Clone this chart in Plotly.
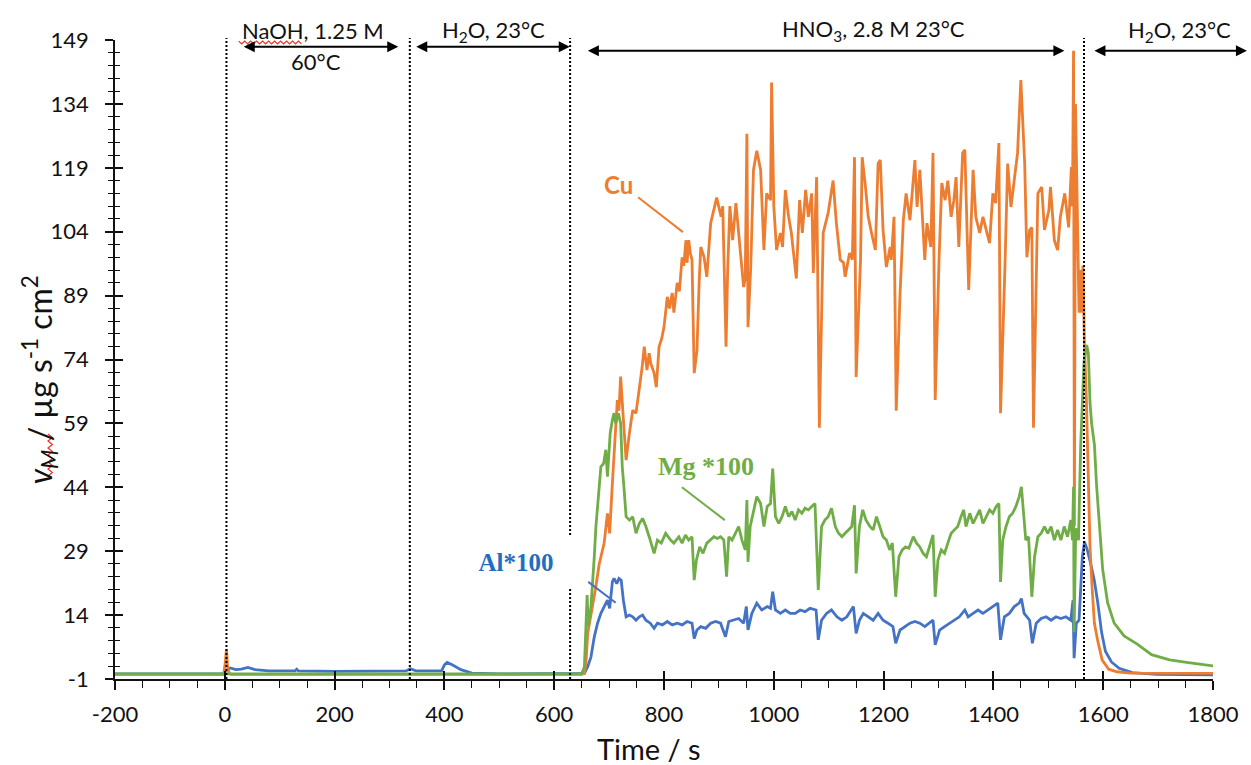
import plotly.graph_objects as go

# ---------------------------------------------------------------- data
# Dissolution rates (µg s-1 cm-2) versus time (s); Mg and Al are scaled x100.
cu_t = [-200, -2, 1, 3, 5, 8, 12, 650, 655, 658,
        661, 667, 675, 682, 691, 697, 701, 706, 712, 715,
        718, 721, 726, 731, 737, 743, 749, 755, 760, 764,
        767, 769, 773, 776, 782, 786, 791, 796, 800, 806,
        810, 815, 818, 824, 828, 831, 833, 836, 840, 842,
        845, 848, 851, 855, 860, 864, 867, 873, 878, 885,
        891, 896, 904, 907, 913, 916, 920, 925, 931, 936,
        940, 945, 948, 951, 953, 958, 963, 969, 976, 982,
        987, 994, 996, 1000, 1005, 1012, 1016, 1021, 1027, 1032,
        1041, 1047, 1052, 1058, 1063, 1069, 1072, 1078, 1083, 1090,
        1099, 1108, 1114, 1121, 1127, 1130, 1138, 1143, 1147, 1150,
        1158, 1161, 1167, 1172, 1178, 1185, 1190, 1194, 1199, 1205,
        1212, 1214, 1219, 1223, 1230, 1236, 1241, 1248, 1257, 1261,
        1266, 1272, 1275, 1279, 1286, 1290, 1294, 1301, 1306, 1312,
        1317, 1323, 1328, 1332, 1337, 1344, 1348, 1355, 1363, 1368,
        1375, 1381, 1386, 1393, 1399, 1404, 1410, 1413, 1421, 1426,
        1432, 1439, 1444, 1450, 1457, 1461, 1466, 1470, 1473, 1481,
        1488, 1493, 1501, 1504, 1511, 1517, 1522, 1530, 1537, 1542,
        1544, 1546, 1547.5, 1549.5, 1551, 1556, 1558, 1560, 1563, 1566,
        1569.5, 1572, 1576, 1580, 1584, 1590, 1598, 1610, 1625, 1650,
        1800]
cu_v = [0.1, 0.1, 3, 6, 2, 0.3, 0.1, 0.1, 0.3, 3,
        9.7, 14, 20, 26, 30.9, 37.9, 33.2, 45, 59.8, 64.5,
        62, 70, 60, 50.4, 56.7, 62.1, 61.4, 66.8, 72, 77,
        74, 71.5, 75.5, 73, 70.8, 67.5, 77, 79, 81.6, 88.7,
        86, 89.6, 85, 92, 90, 94.3, 98, 96, 102, 96.7,
        102, 99, 97.4, 70.8, 76, 92, 100.4, 98, 93.4, 106,
        109, 112, 107.5, 110, 77, 95, 110, 102, 110.7, 104,
        97.4, 91, 93, 127, 81.6, 95.7, 118.5, 123, 118.5, 99.7,
        113, 111.4, 139, 110, 99.7, 103.7, 100.4, 113.8, 107.5, 103.7,
        93, 111.4, 103.7, 113.8, 107.5, 113, 94.3, 116.8, 58, 103.7,
        108.4, 116, 106, 97.4, 96.7, 93.4, 99, 97.4, 121.5, 69.9,
        97.4, 121.5, 114.5, 107.5, 103.7, 99.7, 120, 120.8, 104.4, 95.7,
        100.4, 97.4, 107.5, 62, 89.6, 106.7, 113, 106.7, 120.8, 109.8,
        118.5, 102.8, 97.4, 106, 100.4, 122.5, 64.5, 97.4, 115.4, 111.4,
        116, 107.5, 111.4, 116.8, 100.4, 122.5, 123.2, 90.3, 118.5, 107.5,
        103.7, 107.5, 105, 101.3, 113, 110.7, 124.8, 61.4, 95.7, 120,
        109.8, 116.8, 122.5, 139.6, 120, 98, 104.4, 105, 58, 113,
        114.5, 104.4, 109, 114.5, 102, 99.7, 107.5, 113, 105, 119.2,
        110, 146.5, 35, 134, 120, 85, 95, 85, 96, 77,
        64, 49, 30, 20, 12, 8, 3.5, 1.3, 0.7, 0.4,
        0.3]

mg_t = [-200, 650, 655, 658, 660, 662, 667, 673, 676, 682,
        685, 690, 694, 697, 702, 706, 709, 712, 717, 721,
        724, 727, 731, 737, 743, 749, 755, 761, 767, 773,
        782, 788, 795, 803, 812, 818, 827, 833, 839, 845,
        851, 855, 859, 865, 871, 878, 885, 891, 897, 903,
        909, 914, 918, 924, 930, 936, 942, 948, 951, 953,
        957, 963, 969, 976, 982, 988, 994, 998, 1003, 1009,
        1015, 1021, 1027, 1033, 1039, 1045, 1051, 1057, 1063, 1069,
        1075, 1081, 1087, 1093, 1099, 1105, 1112, 1118, 1124, 1130,
        1136, 1142, 1147, 1150, 1156, 1162, 1168, 1175, 1181, 1187,
        1193, 1199, 1205, 1211, 1216, 1222, 1228, 1234, 1240, 1246,
        1254, 1260, 1266, 1272, 1278, 1284, 1290, 1294, 1299, 1305,
        1311, 1317, 1323, 1329, 1335, 1341, 1346, 1350, 1357, 1363,
        1369, 1375, 1381, 1387, 1393, 1399, 1405, 1410, 1413, 1417,
        1423, 1429, 1435, 1441, 1447, 1451, 1455, 1459, 1464, 1470,
        1475, 1481, 1487, 1493, 1499, 1505, 1511, 1517, 1523, 1529,
        1535, 1541, 1544, 1546, 1547, 1550, 1555, 1559, 1565, 1570,
        1573, 1576, 1579, 1584, 1588, 1593, 1599, 1608, 1620, 1638,
        1649, 1662, 1688, 1721, 1755, 1800]
mg_v = [0.2, 0.2, 1.9, 10.5, 18.7, 11.3, 16, 27.7, 34.8, 44.1,
        48.8, 49.6, 52.8, 46.5, 56.7, 59.8, 61.4, 59, 61.4, 59,
        48.8, 44.1, 37.1, 36.3, 37.1, 33.2, 35.5, 36.7, 34.8, 32.4,
        28.5, 31.6, 30.9, 33.2, 31.6, 30.9, 32.4, 30.9, 32.8, 31.6,
        32.4, 22.2, 26.9, 30, 28.5, 30.9, 31.6, 32.4, 32, 32.4,
        31.6, 23, 32.4, 31.6, 33.2, 34.8, 31.6, 29.3, 41, 26.5,
        34.8, 38.7, 41.8, 40.2, 34.8, 39.5, 40.2, 48.4, 37.1, 35.5,
        37.1, 39.5, 37.1, 38.3, 36.3, 38.7, 37.9, 39.1, 38.7, 39.5,
        40.2, 19.9, 34.8, 36.3, 37.1, 39.1, 34.8, 33.2, 32.4, 33.2,
        34, 34.8, 39.8, 23.8, 34.8, 38.7, 36.3, 34.8, 34, 37.1,
        34.8, 32.4, 31.6, 29.3, 30.9, 18.3, 27.7, 29.3, 30, 29.7,
        32.4, 30.9, 30, 28.5, 27.7, 30, 32.8, 18.3, 26.9, 29.3,
        28.5, 30.9, 33.2, 34, 34.8, 37.1, 38.7, 34.8, 37.9, 35.5,
        37.1, 38.7, 35.5, 37.1, 38.7, 37.9, 39.5, 40.2, 21.8, 31.6,
        34.8, 37.1, 37.9, 39.5, 41.8, 44.1, 37.9, 31.6, 32.4, 18.3,
        27.7, 32.4, 33.2, 34.8, 33.2, 34.8, 31.6, 34, 31.6, 34.8,
        32.4, 36.3, 31.6, 44.1, 10, 34.4, 31.6, 53.9, 73.4, 77.4,
        75.4, 63.8, 58.9, 54, 44.3, 34.4, 24.8, 16.9, 12.1, 9.1,
        8.2, 7.2, 4.7, 3.5, 2.85, 2.1]

al_t = [-200, -2, 2, 10, 20, 30, 42, 55, 80, 128,
        131, 134, 200, 300, 330, 338, 348, 395, 400, 405,
        415, 430, 450, 500, 655, 661, 667, 673, 679, 685,
        691, 697, 701, 703, 706, 709, 714, 718, 722, 726,
        731, 737, 743, 749, 755, 761, 767, 775, 782, 788,
        797, 806, 815, 824, 833, 842, 851, 855, 860, 867,
        876, 885, 894, 903, 912, 918, 927, 936, 945, 950,
        953, 960, 969, 978, 988, 994, 998, 1003, 1012, 1021,
        1030, 1039, 1048, 1057, 1066, 1077, 1081, 1087, 1096, 1105,
        1115, 1124, 1133, 1145, 1150, 1156, 1163, 1172, 1181, 1190,
        1199, 1208, 1217, 1222, 1230, 1239, 1248, 1257, 1266, 1275,
        1284, 1290, 1294, 1302, 1311, 1320, 1329, 1338, 1348, 1354,
        1363, 1372, 1381, 1390, 1399, 1408, 1413, 1420, 1429, 1438,
        1447, 1451, 1456, 1466, 1471, 1478, 1487, 1496, 1505, 1514,
        1523, 1532, 1541, 1545, 1547, 1551, 1556, 1562, 1566, 1571,
        1577, 1584, 1590, 1597, 1604, 1615, 1629, 1653, 1698, 1800]
al_v = [0.2, 0.2, 1.0, 1.6, 1.2, 1.3, 1.7, 1.2, 0.9, 0.9,
        1.3, 0.9, 0.8, 0.8, 0.9, 1.4, 0.9, 0.9, 2.3, 2.9,
        2.3, 1.2, 0.4, 0.2, 0.3, 1.9, 4.2, 8.9, 12.1, 14.4,
        16, 17.5, 15.6, 18.3, 21.8, 22.6, 21.4, 22.6, 22.2, 17.5,
        13.6, 14, 13.6, 12.8, 13.6, 14, 12.8, 12.1, 10.9, 12.1,
        11.7, 12.5, 11.7, 12.1, 11.7, 12.5, 12.1, 8.5, 10.5, 11.3,
        10.9, 12.1, 12.5, 12.1, 8.9, 12.5, 12.8, 13.2, 12.1, 16,
        10.5, 14.4, 16.8, 15.2, 16, 15.6, 19.5, 15.2, 14.4, 15.2,
        14.4, 14.4, 15.2, 14.8, 15.6, 15.2, 8.2, 12.8, 14.4, 15.2,
        13.6, 12.8, 13.6, 16, 9.7, 12.8, 14.4, 13.6, 12.8, 14.4,
        12.8, 12.1, 11.3, 7.4, 10.5, 11.3, 12.1, 12.5, 12.1, 11.3,
        12.1, 12.8, 7, 10.5, 11.3, 12.1, 12.8, 13.6, 15.2, 13.6,
        14.4, 15.2, 14.4, 15.2, 16, 16.8, 8.2, 13.6, 14.4, 16,
        16.8, 17.9, 14.4, 12.8, 7.4, 12.1, 13.2, 13.6, 12.8, 13.6,
        13.2, 13.6, 12.8, 17.5, 3.9, 12.1, 12.8, 27.7, 31.2, 29.3,
        26.2, 22, 17, 10, 5.5, 3, 1.5, 0.5, 0.1, 0.0]

# solution changes (s)
phase_bounds = [3, 337, 629, 1565]

x_tickvals = [-200, 0, 200, 400, 600, 800, 1000, 1200, 1400, 1600, 1800]
x_ticktext = ["-200", "0", "200", "400", "600", "800", "1000", "1200", "1400", "1600", "1800"]
y_tickvals = [-1, 14, 29, 44, 59, 74, 89, 104, 119, 134, 149]
y_ticktext = ["-1", "14", "29", "44", "59", "74", "89", "104", "119", "134", "149"]

# ---------------------------------------------------------------- style
ORANGE = "#ED7D31"
GREEN = "#70AD47"
BLUE = "#4472C4"
AL_TEXT = "#1F6FC0"
INK = "#111111"
SANS = "Lato, 'Open Sans', sans-serif"
SERIF = "'Liberation Serif', 'Times New Roman', serif"

FIG_W, FIG_H = 1251, 765
ML, MR, MT, MB = 115, 35, 40, 86
PW = FIG_W - ML - MR
PH = FIG_H - MT - MB


def px(xp):
    """horizontal canvas pixel -> paper fraction"""
    return (xp - ML) / PW


def py(yp):
    """vertical canvas pixel -> paper fraction"""
    return (MT + PH - yp) / PH


def squiggle(x0, y0, x1, y1, amp=1.6, step=3.0):
    """spell-check style zigzag between two canvas points, as a paper path"""
    dx, dy = x1 - x0, y1 - y0
    length = (dx * dx + dy * dy) ** 0.5
    ux, uy = dx / length, dy / length
    nx, ny = -uy, ux
    n = int(length / step)
    pts = []
    for i in range(n + 1):
        s = i * step
        o = amp if i % 2 else -amp
        xp = x0 + ux * s + nx * o
        yp = y0 + uy * s + ny * o
        pts.append(f"{px(xp):.5f},{py(yp):.5f}")
    return "M" + " L".join(pts)


fig = go.Figure()

for t, v, col in [(al_t, al_v, BLUE), (cu_t, cu_v, ORANGE), (mg_t, mg_v, GREEN)]:
    fig.add_trace(go.Scatter(x=t, y=v, mode="lines",
                             line=dict(color=col, width=2.8),
                             showlegend=False, hoverinfo="skip"))

# companion axes carrying the inner half of the tick marks
fig.add_trace(go.Scatter(x=[None], y=[None], xaxis="x2", yaxis="y2",
                         showlegend=False, hoverinfo="skip"))

shapes = []
for b in phase_bounds:
    shapes.append(dict(type="line", xref="x", yref="paper", x0=b, x1=b, y0=0, y1=1.003,
                       line=dict(color="black", width=2, dash="2px,2px"), layer="above"))

# leader lines from labels to curves
for (t0, v0, t1, v1, col) in [(752.8, 112.1, 834.5, 103.9, ORANGE),
                              (832.7, 44.0, 910.7, 36.3, GREEN),
                              (662.0, 21.8, 712.0, 16.9, BLUE)]:
    shapes.append(dict(type="line", xref="x", yref="y", x0=t0, y0=v0, x1=t1, y1=v1,
                       line=dict(color=col, width=2), layer="above"))

# red proofing squiggles
shapes.append(dict(type="path", xref="paper", yref="paper",
                   path=squiggle(239, 42.5, 302, 42.5, amp=1.4, step=3.0),
                   line=dict(color="#E8322A", width=1.2)))
shapes.append(dict(type="path", xref="paper", yref="paper",
                   path=squiggle(50, 476, 50, 434, amp=2.2, step=3.5),
                   line=dict(color="#E8322A", width=1.2)))

annotations = []


def span_arrow(x0, x1, yp):
    return dict(xref="paper", yref="paper", x=px(x1), y=py(yp),
                ax=x0 - x1, ay=0, axref="pixel", ayref="pixel",
                text="", showarrow=True, arrowside="end+start",
                arrowhead=2, arrowsize=1.1, arrowwidth=2, arrowcolor="black",
                standoff=0, startstandoff=0)


annotations += [span_arrow(243, 399, 46.7), span_arrow(416, 571, 46.7),
                span_arrow(589, 1067, 50.7), span_arrow(1096, 1250, 50.7)]


def top_text(text, xp, yp):
    return dict(xref="paper", yref="paper", x=px(xp), y=py(yp), text=text,
                showarrow=False, xanchor="center", yanchor="middle",
                font=dict(family=SANS, size=22, color=INK))


annotations += [top_text("NaOH, 1.25 M", 314, 30),
                top_text("60°C", 317, 61),
                top_text("H<sub>2</sub>O, 23°C", 495, 31),
                top_text("HNO<sub>3</sub>, 2.8 M 23°C", 876, 30),
                top_text("H<sub>2</sub>O, 23°C", 1182, 31)]

# series labels
annotations += [
    dict(xref="x", yref="y", x=718, y=115, text="<b>Cu</b>", showarrow=False,
         xanchor="center", yanchor="middle",
         font=dict(family=SANS, size=24, color=ORANGE)),
    dict(xref="x", yref="y", x=877, y=49, text="<b>Mg *100</b>", showarrow=False,
         xanchor="center", yanchor="middle",
         font=dict(family=SERIF, size=26, color=GREEN)),
    dict(xref="x", yref="y", x=531, y=26.3, text="<b>Al*100</b>", showarrow=False,
         xanchor="center", yanchor="middle",
         font=dict(family=SERIF, size=25, color=AL_TEXT),
         bgcolor="white", width=114, height=51, borderpad=0),
]

# axis titles
annotations += [
    dict(xref="paper", yref="paper", x=px(650), y=py(748), text="Time / s",
         xanchor="center", yanchor="middle",
         showarrow=False, font=dict(family=SANS, size=29, color=INK)),
    dict(xref="paper", yref="paper", x=px(39), y=py(380),
         text="<i>v<sub>M</sub></i> / µg s<sup>-1</sup> cm<sup>2</sup>",
         xanchor="center", yanchor="middle",
         textangle=-90, showarrow=False, font=dict(family=SANS, size=32, color=INK)),
]

axis_common = dict(showgrid=False, zeroline=False, tickcolor=INK, tickwidth=1.6)

fig.update_layout(
    width=FIG_W, height=FIG_H,
    margin=dict(l=ML, r=MR, t=MT, b=MB),
    paper_bgcolor="white", plot_bgcolor="white",
    font=dict(family=SANS, color=INK),
    showlegend=False,
    xaxis=dict(range=[-200, 1800], tickmode="array", tickvals=x_tickvals, ticktext=x_ticktext,
               ticks="outside", ticklen=9, showline=True, linecolor=INK, linewidth=1.6,
               tickfont=dict(family=SANS, size=22, color=INK), ticklabelstandoff=6,
               minor=dict(ticks="outside", ticklen=7, tickwidth=1.3, tickcolor=INK,
                          tickmode="linear", tick0=-200, dtick=50, showgrid=False),
               **axis_common),
    yaxis=dict(range=[-1, 149], tickmode="array", tickvals=y_tickvals, ticktext=y_ticktext,
               ticks="outside", ticklen=8, showline=True, linecolor=INK, linewidth=1.6,
               tickfont=dict(family=SANS, size=22, color=INK), ticklabelstandoff=12,
               minor=dict(ticks="outside", ticklen=5, tickwidth=1.3, tickcolor=INK,
                          tickmode="linear", tick0=-1, dtick=3, showgrid=False),
               **axis_common),
    xaxis2=dict(overlaying="x", anchor="y2", side="bottom", range=[-200, 1800],
                tickmode="array", tickvals=x_tickvals, ticks="inside", ticklen=8,
                showticklabels=False, showline=False, **axis_common),
    yaxis2=dict(overlaying="y", anchor="x2", side="left", range=[-1, 149],
                tickmode="array", tickvals=y_tickvals, ticks="inside", ticklen=8,
                showticklabels=False, showline=False,
                minor=dict(ticks="inside", ticklen=5, tickwidth=1.3, tickcolor=INK,
                           tickmode="linear", tick0=-1, dtick=3, showgrid=False),
                **axis_common),
    shapes=shapes,
    annotations=annotations,
)

fig.write_html("out.html")
